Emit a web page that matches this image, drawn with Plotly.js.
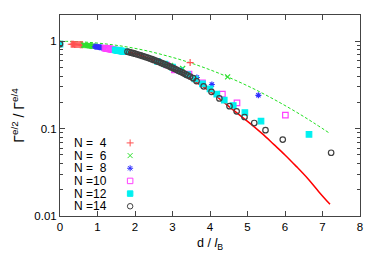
<!DOCTYPE html>
<html><head><meta charset="utf-8">
<script src="https://cdn.plot.ly/plotly-3.0.1.min.js"></script>
<style>html,body{margin:0;padding:0;background:#fff;}#chart{width:382px;height:267px;}</style>
</head><body><div id="chart"></div>
<script>
// ---- data ----
const seriesNames = ["N =\u20074", "N =\u20076", "N =\u20078", "N =10", "N =12", "N =14"];

const n4x = [0.30,0.33,0.36,0.39,0.42,0.45,0.48,0.51,0.54,0.57,0.60,3.47];
const n4y = [0.925,0.924,0.923,0.922,0.921,0.920,0.918,0.916,0.914,0.912,0.910,0.570];

const n6x = [0.63,0.66,0.69,0.72,0.75,0.78,0.81,0.84,0.87,0.90,2.95,3.27,4.47];
const n6y = [0.905,0.902,0.899,0.896,0.893,0.889,0.886,0.882,0.878,0.875,0.530,0.488,0.392];

const n8x = [0.93,0.96,0.99,1.02,1.05,1.08,1.11,1.14,1.17,3.65,4.05,5.29];
const n8y = [0.871,0.867,0.864,0.860,0.856,0.852,0.848,0.844,0.840,0.385,0.320,0.241];

const n10x = [1.20,1.23,1.26,1.29,1.32,1.35,1.38,1.41,1.44,2.85,3.05,3.44,3.80,4.33,4.72,6.01];
const n10y = [0.835,0.831,0.826,0.822,0.817,0.813,0.808,0.804,0.800,0.535,0.470,0.420,0.334,0.248,0.197,0.143];

const n12x = [0.00,1.47,1.50,1.53,1.56,1.59,1.62,1.65,1.68,1.71,1.74,2.60,2.80,3.00,3.20,3.40,3.60,3.80,4.00,4.18,4.38,4.62,4.93,5.36,6.64];
const n12y = [0.930,0.795,0.791,0.787,0.783,0.779,0.775,0.771,0.767,0.763,0.760,0.590,0.550,0.505,0.460,0.415,0.370,0.325,0.285,0.248,0.212,0.184,0.153,0.122,0.086];

const n14x = [0.00,1.80,1.85,1.90,1.95,2.00,2.05,2.10,2.15,2.20,2.25,2.30,2.35,2.40,2.45,2.50,2.55,2.60,2.65,2.70,2.75,2.80,2.85,2.90,2.95,3.00,3.05,3.10,3.15,3.20,3.25,3.30,3.35,3.40,3.47,3.55,3.64,3.83,4.04,4.25,4.52,4.71,4.92,5.18,5.48,5.94,7.23];
const n14y = [0.930,0.760,0.750,0.741,0.731,0.721,0.711,0.700,0.690,0.679,0.668,0.657,0.646,0.635,0.624,0.612,0.601,0.589,0.578,0.566,0.555,0.543,0.532,0.520,0.509,0.497,0.486,0.475,0.463,0.452,0.441,0.430,0.419,0.408,0.395,0.378,0.350,0.305,0.264,0.222,0.181,0.158,0.136,0.116,0.096,0.075,0.053];

const redX = [1.75,2.1,2.4,2.7,3.0,3.3,3.6,3.9,4.2,4.5,4.8,5.1,5.4,5.7,6.0,6.3,6.6,6.9,7.2];
const redY = [0.775,0.700,0.630,0.560,0.480,0.410,0.345,0.285,0.230,0.180,0.142,0.112,0.087,0.066,0.050,0.037,0.027,0.019,0.0136];

const greenX = [0,0.4,0.8,1.2,1.6,2.0,2.4,2.8,3.2,3.6,4.0,4.4,4.8,5.2,5.6,6.0,6.4,6.8,7.2];
const greenY = [1.0,0.993,0.970,0.935,0.887,0.830,0.763,0.690,0.618,0.544,0.472,0.403,0.339,0.281,0.229,0.184,0.146,0.114,0.088];

const xTicks = [0,1,2,3,4,5,6,7,8];
const yTickVals = [0.01,0.1,1];
const yTickText = ["0.01","0.1","1"];

// ---- styling ----
const styles = [
  {symbol:"cross-thin-open", color:"#ff5050", size:5},
  {symbol:"x-thin-open", color:"#30e030", size:5},
  {symbol:"asterisk-open", color:"#3030ff", size:5},
  {symbol:"square-open", color:"#ff40ff", size:5.5},
  {symbol:"square", color:"#00f0f0", size:5.5},
  {symbol:"circle-open", color:"#404040", size:5.5}
];
const xs = [n4x,n6x,n8x,n10x,n12x,n14x];
const ys = [n4y,n6y,n8y,n10y,n12y,n14y];

const traces = [];
traces.push({x:greenX, y:greenY, mode:"lines", line:{color:"#20e020", width:1, dash:"3px,2px", shape:"spline"}, showlegend:false, hoverinfo:"skip"});
traces.push({x:redX, y:redY, mode:"lines", line:{color:"#ff0000", width:1.5, shape:"spline"}, showlegend:false, hoverinfo:"skip"});
for (let i = 0; i < xs.length; i++) {
  const s = styles[i];
  const mk = {symbol:s.symbol, size:s.size, color:s.color, line:{color:s.color, width:1.2}};
  traces.push({x:xs[i], y:ys[i], mode:"markers", marker:mk, showlegend:false, name:seriesNames[i]});
}
// legend keys (overlay axis y2, one row per series)
const keyRows = seriesNames.map((_, i) => -i);
for (let i = 0; i < seriesNames.length; i++) {
  const s = styles[i];
  traces.push({x:[1.87], y:[keyRows[i]], xaxis:"x", yaxis:"y2", mode:"markers",
    marker:{symbol:s.symbol, size:s.size, color:s.color, line:{color:s.color, width:1}},
    showlegend:false, hoverinfo:"skip"});
}
const annotations = seriesNames.map((t, i) => ({
  x:0.32, y:keyRows[i], xref:"x", yref:"y2", text:t, showarrow:false,
  xanchor:"left", yanchor:"middle", font:{family:"Liberation Sans, Arial, sans-serif", size:12, color:"#000"}
}));

const layout = {
  width:382, height:267,
  margin:{l:60, r:22, t:15, b:51},
  paper_bgcolor:"#fff", plot_bgcolor:"#fff",
  font:{family:"Liberation Sans, Arial, sans-serif", size:11, color:"#000"},
  showlegend:false,
  xaxis:{range:[0,8], tickvals:xTicks, ticks:"inside", ticklen:5, tickcolor:"#444",
    showline:true, linecolor:"#444", linewidth:1, mirror:"ticks", showgrid:false, zeroline:false,
    tickfont:{size:11.5}, title:{text:"d / <i>l</i><sub>B</sub>", font:{size:12.5}, standoff:6}},
  yaxis:{type:"log", range:[-2, Math.log10(2)], tickvals:yTickVals, ticktext:yTickText,
    ticks:"inside", ticklen:5, tickcolor:"#444",
    minor:{ticks:"inside", ticklen:3, tickcolor:"#444", dtick:"D1"},
    showline:true, linecolor:"#444", linewidth:1, mirror:"ticks", showgrid:false, zeroline:false,
    tickfont:{size:11.5}, title:{text:"Γ<sup>e/2</sup> / Γ<sup>e/4</sup>", font:{size:14}, standoff:6}},
  yaxis2:{overlaying:"y", range:[-5.77, 10.1], visible:false, showgrid:false, zeroline:false, fixedrange:true},
  annotations:annotations
};
Plotly.newPlot("chart", traces, layout, {displayModeBar:false, staticPlot:true});
</script></body></html>
